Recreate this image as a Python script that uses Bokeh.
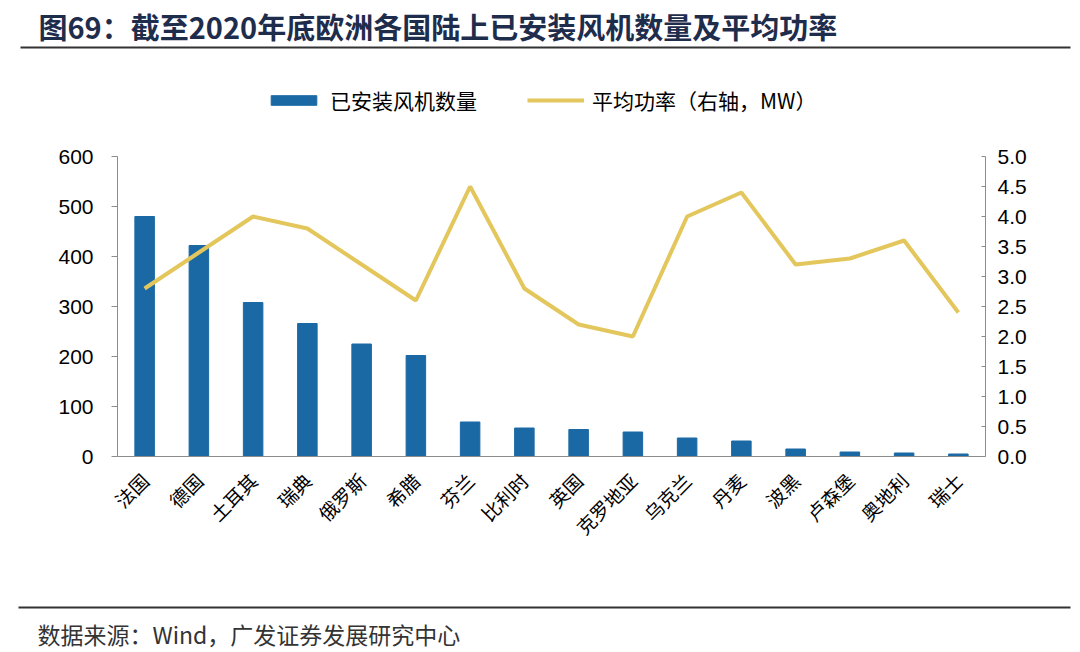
import math
from bokeh.plotting import figure
from bokeh.layouts import column
from bokeh.models import (FactorRange, Range1d, LinearAxis, Legend, LegendItem,
                          FixedTicker, NumeralTickFormatter)
from bokeh.core.properties import value
from bokeh.embed import file_html
from bokeh.resources import INLINE

countries = ["法国", "德国", "土耳其", "瑞典", "俄罗斯", "希腊", "芬兰", "比利时",
             "英国", "克罗地亚", "乌克兰", "丹麦", "波黑", "卢森堡", "奥地利", "瑞士"]
turbine_counts = [480, 422, 308, 266, 225, 202, 69, 57, 54, 49, 37, 31, 15, 9, 7, 5]
avg_power_mw = [2.8, 3.4, 4.0, 3.8, 3.2, 2.6, 4.5, 2.8, 2.2, 2.0, 4.0, 4.4, 3.2, 3.3, 3.6, 2.4]
left_ticks = [0, 100, 200, 300, 400, 500, 600]
right_ticks = [0.0, 0.5, 1.0, 1.5, 2.0, 2.5, 3.0, 3.5, 4.0, 4.5, 5.0]

title_text = ["图69：截至2020年底欧洲各国陆上已安装风机数量及平均功率"]
source_text = ["数据来源：Wind，广发证券发展研究中心"]
bar_name = "已安装风机数量"
line_name = "平均功率（右轴，MW）"

BAR = "#1a69a4"
LINE = "#e3c65c"
AXIS = "#8c8c8c"
RULE = "#333333"
CJK = "Noto Sans CJK SC"
NUM = "Liberation Sans"

W = 1072
TOP_H, MAIN_H, BOT_H = 60, 538, 52
F_LEFT, F_RIGHT, F_TOP600, F_ZERO = 117, 985, 156, 456   # page px
LEG_TOP = 76


def deco_figure(h):
    f = figure(width=W, height=h, x_range=Range1d(0, W), y_range=Range1d(h, 0),
               output_backend="svg", toolbar_location=None,
               x_axis_location=None, y_axis_location=None,
               min_border=0, min_border_left=0, min_border_right=0,
               min_border_top=0, min_border_bottom=0, frame_align=False)
    f.outline_line_color = None
    f.xgrid.grid_line_color = None
    f.ygrid.grid_line_color = None
    return f


# ---- header ----
top = deco_figure(TOP_H)
top.text(x=[38], y=[25], text=title_text, text_font=value(CJK),
         text_font_style="bold", text_font_size="29px", text_color="#1f2d4d",
         text_baseline="middle", text_align="left")
top.segment(x0=[20], y0=[47], x1=[1070], y1=[47], line_color=RULE, line_width=2)

# ---- main chart ----
frame_top = LEG_TOP - TOP_H
frame_bot = F_ZERO - TOP_H
px_span = F_ZERO - LEG_TOP
y_top = 600 * px_span / float(F_ZERO - F_TOP600)
r_top = 5.0 * px_span / float(F_ZERO - F_TOP600)

p = figure(width=W, height=MAIN_H, x_range=FactorRange(factors=countries),
           y_range=Range1d(0, y_top), output_backend="svg", toolbar_location=None,
           min_border_left=F_LEFT, min_border_right=W - F_RIGHT,
           min_border_top=frame_top, min_border_bottom=MAIN_H - frame_bot,
           frame_align=False)
p.outline_line_color = None
p.xgrid.grid_line_color = None
p.ygrid.grid_line_color = None
p.extra_y_ranges = {"right": Range1d(0, r_top)}

bars = p.vbar(x=countries, top=turbine_counts, width=0.36, color=BAR)
line = p.line(x=countries, y=avg_power_mw, y_range_name="right",
              line_color=LINE, line_width=4)

ya = p.yaxis[0]
ya.ticker = FixedTicker(ticks=left_ticks)
ya.bounds = (0, 600)
ya.axis_line_color = AXIS
ya.major_tick_line_color = AXIS
ya.major_tick_in = 0
ya.major_tick_out = 6
ya.minor_tick_line_color = None
ya.major_label_standoff = 18
ya.major_label_text_font = NUM
ya.major_label_text_font_size = "21px"
ya.major_label_text_color = "black"

ra = LinearAxis(y_range_name="right", ticker=FixedTicker(ticks=right_ticks),
                formatter=NumeralTickFormatter(format="0.0"), bounds=(0, 5))
ra.axis_line_color = AXIS
ra.major_tick_line_color = AXIS
ra.major_tick_in = 4
ra.major_tick_out = 0
ra.minor_tick_line_color = None
ra.major_label_standoff = 12
ra.major_label_text_font = NUM
ra.major_label_text_font_size = "21px"
ra.major_label_text_color = "black"
p.add_layout(ra, "right")

xa = p.xaxis[0]
xa.axis_line_color = AXIS
xa.major_tick_line_color = None
xa.minor_tick_line_color = None
xa.major_label_orientation = math.pi / 4
xa.major_label_standoff = 14
xa.major_label_text_font = CJK
xa.major_label_text_font_size = "19px"
xa.major_label_text_color = "black"

legend = Legend(items=[LegendItem(label=bar_name, renderers=[bars]),
                       LegendItem(label=line_name, renderers=[line])],
                location=(265 - F_LEFT, F_ZERO - 115), orientation="horizontal",
                glyph_width=57, glyph_height=12, label_height=20,
                label_standoff=8, spacing=50, padding=0, margin=0,
                border_line_color=None, background_fill_alpha=0,
                label_text_font=CJK, label_text_font_size="21px",
                label_text_color="black")
p.add_layout(legend, "center")

# ---- footer ----
bot = deco_figure(BOT_H)
bot.segment(x0=[18], y0=[607 - 598], x1=[1070], y1=[607 - 598],
            line_color=RULE, line_width=2)
bot.text(x=[37], y=[633 - 598], text=source_text, text_font=value(CJK),
         text_font_size="23px", text_color="#333333",
         text_baseline="middle", text_align="left")

layout = column(top, p, bot, spacing=0)
open("out.html", "w").write(file_html(layout, INLINE))
